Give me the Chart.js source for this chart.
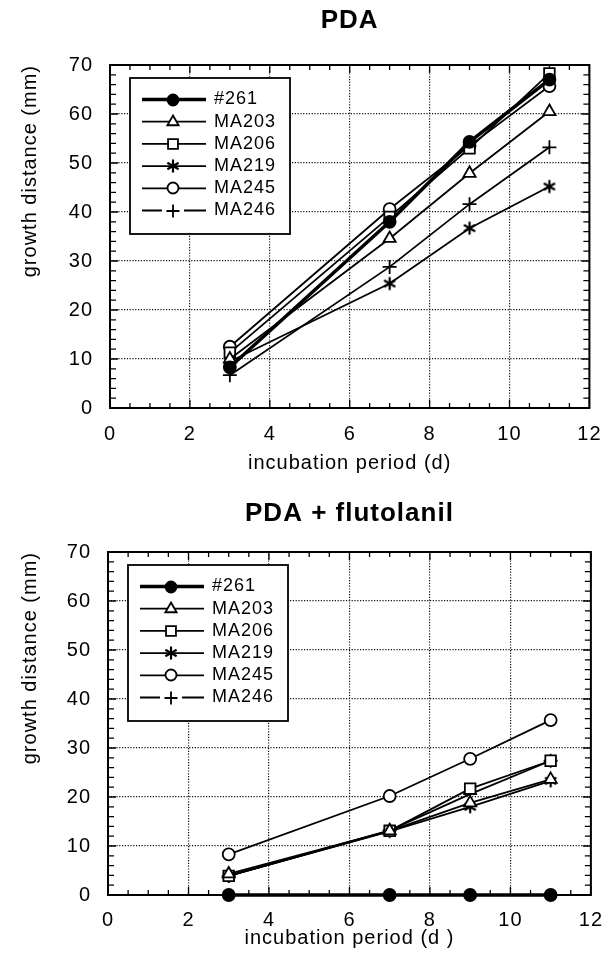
<!DOCTYPE html>
<html>
<head>
<meta charset="utf-8">
<script src="https://cdn.jsdelivr.net/npm/chart.js@4/dist/chart.umd.min.js"></script>
<style>
  html, body { margin: 0; padding: 0; background: #fff; }
  #wrap { position: relative; width: 616px; height: 965px; }
  canvas { position: absolute; left: 0; }
  #pda { top: 0; }
  #flu { top: 482px; }
</style>
</head>
<body>
<div id="wrap">
  <canvas id="pda" width="616" height="478"></canvas>
  <canvas id="flu" width="616" height="483"></canvas>
</div>
<script>
// incubation days and strain names
const days = [3, 7, 9, 11];
const strains = ['#261', 'MA203', 'MA206', 'MA219', 'MA245', 'MA246'];

// growth distance (mm) on PDA
const pda261 = [8.3, 38.0, 54.3, 67.0];
const pda203 = [10.0, 34.6, 47.9, 60.5];
const pda206 = [11.3, 39.0, 53.0, 68.3];
const pda219 = [9.5, 25.4, 36.7, 45.2];
const pda245 = [12.5, 40.6, 53.5, 65.7];
const pda246 = [6.7, 28.8, 41.6, 53.2];

// growth distance (mm) on PDA + flutolanil
const flu261 = [0, 0, 0, 0];
const flu203 = [4.3, 13.1, 18.8, 23.6];
const flu206 = [3.9, 13.1, 21.7, 27.4];
const flu219 = [3.9, 13.0, 18.0, 23.3];
const flu245 = [8.3, 20.2, 27.8, 35.7];
const flu246 = [3.9, 13.2, 20.6, 27.4];

const xTickLabels = [0, 2, 4, 6, 8, 10, 12];
const yTickLabels = [0, 10, 20, 30, 40, 50, 60, 70];

const FONT = "'Liberation Sans', Arial, Helvetica, sans-serif";
Chart.defaults.font.family = FONT;
Chart.defaults.color = '#000';

function asterisk(r, lw) {
    const c = document.createElement('canvas');
    const s = 2 * Math.ceil(r + lw);
    c.width = s; c.height = s;
    const g = c.getContext('2d');
    g.strokeStyle = '#000';
    g.lineWidth = lw;
    g.translate(s / 2, s / 2);
    for (let k = 0; k < 3; k++) {
        const a = Math.PI / 2 + k * Math.PI / 3;
        g.beginPath();
        g.moveTo(Math.cos(a) * r, Math.sin(a) * r);
        g.lineTo(-Math.cos(a) * r, -Math.sin(a) * r);
        g.stroke();
    }
    return c;
}

// marker / line look for each strain
const looks = [
    { pointStyle: 'circle', radius: 6, fill: '#000', width: 3.5 },
    { pointStyle: 'triangle', radius: 7, fill: '#fff', width: 1.8 },
    { pointStyle: 'rect', radius: 7.5, fill: '#fff', width: 1.8 },
    { pointStyle: asterisk(6.5, 2.2), radius: 6.5, fill: '#fff', width: 1.8 },
    { pointStyle: 'circle', radius: 6, fill: '#fff', width: 1.8 },
    { pointStyle: 'cross', radius: 7, fill: '#fff', width: 1.8, gap: true }
];

const framePlugin = {
    id: 'frame',
    beforeUpdate(chart) { chart.ctx.letterSpacing = '1px'; },
    beforeDraw(chart) { chart.ctx.letterSpacing = '1px'; },
    beforeDatasetsDraw(chart) {
        const { ctx, chartArea: a, scales: { x, y } } = chart;
        ctx.save();
        ctx.strokeStyle = '#000';
        ctx.lineWidth = 1.3;
        ctx.beginPath();
        x.ticks.forEach(t => {
            const px = x.getPixelForValue(t.value);
            const len = xTickLabels.includes(t.value) ? 8 : 5;
            ctx.moveTo(px, a.bottom); ctx.lineTo(px, a.bottom - len);
            ctx.moveTo(px, a.top); ctx.lineTo(px, a.top + len);
        });
        y.ticks.forEach(t => {
            const py = y.getPixelForValue(t.value);
            const len = yTickLabels.includes(t.value) ? 8 : 6;
            ctx.moveTo(a.left, py); ctx.lineTo(a.left + len, py);
            ctx.moveTo(a.right, py); ctx.lineTo(a.right - len, py);
        });
        ctx.stroke();
        ctx.lineWidth = 2;
        ctx.strokeRect(a.left, a.top, a.right - a.left, a.bottom - a.top);

        // legend box in the upper left of the plot
        const bl = a.left + 20, bt = a.top + 13, bw = 160, bh = 156;
        ctx.fillStyle = '#fff';
        ctx.fillRect(bl, bt, bw, bh);
        ctx.lineWidth = 1.8;
        ctx.strokeRect(bl, bt, bw, bh);
        chart.data.datasets.forEach((ds, i) => {
            const cy = bt + 21.5 + i * 22.2;
            const look = looks[i];
            ctx.strokeStyle = '#000';
            ctx.lineWidth = look.width;
            ctx.beginPath();
            if (look.gap) {
                ctx.moveTo(bl + 12, cy); ctx.lineTo(bl + 32, cy);
                ctx.moveTo(bl + 54, cy); ctx.lineTo(bl + 76, cy);
            } else {
                ctx.moveTo(bl + 12, cy); ctx.lineTo(bl + 76, cy);
            }
            ctx.stroke();
            ctx.fillStyle = look.fill;
            ctx.lineWidth = 1.8;
            Chart.helpers.drawPoint(ctx, {
                pointStyle: look.pointStyle, radius: look.radius - 0.5,
                borderWidth: 1.8, rotation: 0
            }, Math.round(bl + 43), Math.round(cy));
            ctx.fillStyle = '#000';
            ctx.font = '18px ' + FONT;
            ctx.textAlign = 'left';
            ctx.textBaseline = 'middle';
            ctx.fillText(ds.label, bl + 84, cy);
        });
        ctx.restore();
    }
};

function makeChart(id, title, series, xTitle, g) {
    return new Chart(document.getElementById(id), {
        type: 'line',
        data: {
            datasets: series.map((vals, i) => ({
                label: strains[i],
                data: days.map((d, k) => ({ x: d, y: vals[k] })),
                borderColor: '#000',
                borderWidth: looks[i].width,
                pointStyle: looks[i].pointStyle,
                pointRadius: looks[i].radius,
                pointBackgroundColor: looks[i].fill,
                pointBorderColor: '#000',
                pointBorderWidth: 1.8,
                tension: 0,
                fill: false,
                clip: false
            }))
        },
        options: {
            responsive: false,
            animation: false,
            devicePixelRatio: 1,
            layout: { padding: { right: g.right, left: 0, top: 0, bottom: 0 } },
            plugins: {
                legend: { display: false },
                tooltip: { enabled: false },
                title: {
                    display: true,
                    text: title,
                    fullSize: false,
                    color: '#000',
                    font: { size: 26, weight: 'bold', family: FONT },
                    padding: { top: g.titleTop, bottom: g.titleBottom }
                }
            },
            scales: {
                x: {
                    type: 'linear',
                    min: 0, max: 12,
                    afterFit: s => { s.height = g.xHeight; },
                    grid: {
                        drawTicks: false,
                        lineWidth: 1.2,
                        color: c => c.tick && xTickLabels.includes(c.tick.value) ? '#111' : 'rgba(0,0,0,0)'
                    },
                    border: { display: false, dash: [1.2, 1.6] },
                    ticks: {
                        stepSize: 0.5,
                        autoSkip: false,
                        maxRotation: 0,
                        padding: g.xTickPad,
                        font: { size: 20 },
                        color: '#000',
                        callback: v => xTickLabels.includes(v) ? String(v) : ''
                    },
                    title: {
                        display: true,
                        text: xTitle,
                        color: '#000',
                        font: { size: 20 },
                        padding: { top: 0, bottom: g.xTitlePad }
                    }
                },
                y: {
                    type: 'linear',
                    min: 0, max: 70,
                    afterFit: s => { s.width = g.yWidth; },
                    grid: {
                        drawTicks: false,
                        lineWidth: 1.2,
                        color: c => c.tick && yTickLabels.includes(c.tick.value) ? '#111' : 'rgba(0,0,0,0)'
                    },
                    border: { display: false, dash: [1.2, 1.6] },
                    ticks: {
                        stepSize: 2,
                        autoSkip: false,
                        padding: 17,
                        font: { size: 20 },
                        color: '#000',
                        callback: v => yTickLabels.includes(v) ? String(v) : ''
                    },
                    title: {
                        display: true,
                        text: 'growth distance (mm)',
                        align: 'end',
                        color: '#000',
                        font: { size: 20 },
                        padding: { top: 18, bottom: 0 }
                    }
                }
            }
        },
        plugins: [framePlugin]
    });
}

makeChart('pda', 'PDA', [pda261, pda203, pda206, pda219, pda245, pda246],
    'incubation period (d)',
    { right: 18, yWidth: 110, xHeight: 70, titleTop: 4.9, titleBottom: 28.9, xTickPad: 14.5, xTitlePad: 3 });

makeChart('flu', 'PDA + flutolanil', [flu261, flu203, flu206, flu219, flu245, flu246],
    'incubation period (d )',
    { right: 19, yWidth: 108, xHeight: 70, titleTop: 16.4, titleBottom: 22.4, xTickPad: 13, xTitlePad: 14.5 });
</script>
</body>
</html>
